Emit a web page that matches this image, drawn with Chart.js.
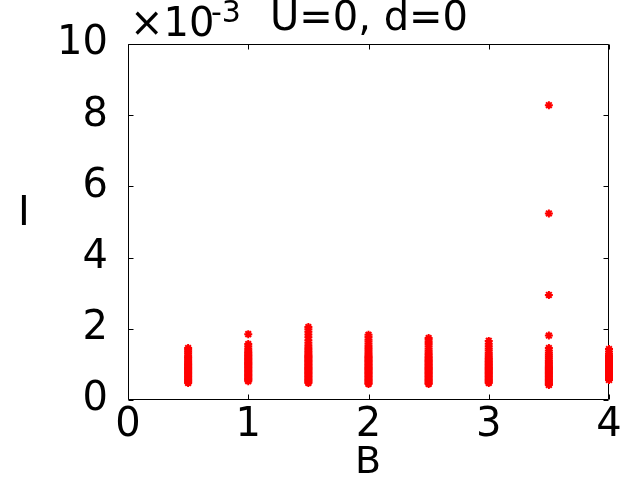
<!DOCTYPE html>
<html>
<head>
<meta charset="utf-8">
<script src="https://cdn.jsdelivr.net/npm/chart.js@4"></script>
<style>
    html, body { margin: 0; padding: 0; background: #fff; }
    #wrap { width: 640px; height: 480px; }
</style>
</head>
<body>
<div id="wrap"><canvas id="grafico"></canvas></div>
<script>
// valori di B (asse x) e corrente I in unità di 1e-3
const valoriB = [0.5, 1, 1.5, 2, 2.5, 3, 3.5, 4]
const tickX = [0, 1, 2, 3, 4]
const tickY = [0, 2, 4, 6, 8, 10]

const correnteB05 = [0.48, 0.51, 0.54, 0.57, 0.60, 0.63, 0.66, 0.69, 0.72, 0.75, 0.78, 0.81, 0.84, 0.87, 0.90, 0.93, 0.96, 0.99, 1.02, 1.05, 1.09, 1.13, 1.17, 1.21, 1.26, 1.31, 1.36, 1.41, 1.46]
const correnteB10 = [0.53, 0.56, 0.59, 0.62, 0.65, 0.68, 0.71, 0.74, 0.77, 0.80, 0.83, 0.86, 0.89, 0.92, 0.95, 0.98, 1.01, 1.04, 1.07, 1.10, 1.13, 1.16, 1.19, 1.22, 1.25, 1.28, 1.31, 1.35, 1.40, 1.45, 1.51, 1.57, 1.85]
const correnteB15 = [0.48, 0.51, 0.54, 0.57, 0.60, 0.63, 0.66, 0.69, 0.72, 0.75, 0.78, 0.81, 0.84, 0.87, 0.90, 0.93, 0.96, 0.99, 1.02, 1.05, 1.08, 1.11, 1.14, 1.17, 1.20, 1.23, 1.26, 1.30, 1.34, 1.38, 1.43, 1.48, 1.54, 1.61, 1.68, 1.76, 1.84, 1.92, 1.99, 2.05]
const correnteB20 = [0.45, 0.48, 0.51, 0.54, 0.57, 0.60, 0.63, 0.66, 0.69, 0.72, 0.75, 0.78, 0.81, 0.84, 0.87, 0.90, 0.93, 0.96, 0.99, 1.02, 1.05, 1.08, 1.11, 1.14, 1.17, 1.20, 1.23, 1.27, 1.31, 1.36, 1.41, 1.46, 1.52, 1.58, 1.64, 1.70, 1.77, 1.83]
const correnteB25 = [0.45, 0.48, 0.51, 0.54, 0.57, 0.60, 0.63, 0.66, 0.69, 0.72, 0.75, 0.78, 0.81, 0.84, 0.87, 0.90, 0.93, 0.96, 0.99, 1.02, 1.05, 1.08, 1.11, 1.14, 1.17, 1.21, 1.25, 1.29, 1.34, 1.39, 1.45, 1.51, 1.57, 1.63, 1.69, 1.74]
const correnteB30 = [0.48, 0.51, 0.54, 0.57, 0.60, 0.63, 0.66, 0.69, 0.72, 0.75, 0.78, 0.81, 0.84, 0.87, 0.90, 0.93, 0.96, 0.99, 1.02, 1.05, 1.08, 1.11, 1.15, 1.19, 1.23, 1.28, 1.33, 1.39, 1.45, 1.51, 1.58, 1.66]
const correnteB35 = [0.42, 0.45, 0.48, 0.51, 0.54, 0.57, 0.60, 0.63, 0.66, 0.69, 0.72, 0.75, 0.78, 0.81, 0.84, 0.87, 0.90, 0.93, 0.96, 1.00, 1.04, 1.08, 1.12, 1.17, 1.22, 1.27, 1.33, 1.39, 1.46, 1.81, 2.95, 5.24, 8.28]
const correnteB40 = [0.56, 0.59, 0.62, 0.65, 0.68, 0.71, 0.74, 0.77, 0.80, 0.83, 0.86, 0.89, 0.92, 0.95, 0.98, 1.01, 1.04, 1.07, 1.10, 1.13, 1.17, 1.21, 1.25, 1.30, 1.36, 1.43]

const colonne = [correnteB05, correnteB10, correnteB15, correnteB20, correnteB25, correnteB30, correnteB35, correnteB40]

var punti = []
colonne.forEach((col, i) => {
    col.forEach(v => punti.push({ x: valoriB[i], y: v }))
})

const font = 'DejaVu Sans'

// cornice e tacche verso l'interno come in MATLAB (sotto i punti), poi le scritte
const cornice = {
    id: 'cornice',
    beforeDatasetsDraw(chart) {
        const ctx = chart.ctx
        const a = chart.chartArea
        const sx = chart.scales.x
        const sy = chart.scales.y
        const L = Math.round(a.left) + 0.5
        const R = Math.round(a.right) - 0.5
        const T = Math.round(a.top) + 0.5
        const B = Math.round(a.bottom) - 0.5
        ctx.save()
        ctx.strokeStyle = '#000'
        ctx.lineWidth = 1
        ctx.beginPath()
        ctx.rect(L, T, R - L, B - T)
        for (let v of tickX) {
            let px = Math.round(sx.getPixelForValue(v)) + 0.5
            ctx.moveTo(px, B); ctx.lineTo(px, B - 5)
            ctx.moveTo(px, T); ctx.lineTo(px, T + 5)
        }
        for (let v of tickY) {
            let py = Math.round(sy.getPixelForValue(v)) + 0.5
            ctx.moveTo(L, py); ctx.lineTo(L + 5, py)
            ctx.moveTo(R, py); ctx.lineTo(R - 5, py)
        }
        ctx.stroke()
        ctx.restore()
    },
    afterDraw(chart) {
        const ctx = chart.ctx
        ctx.save()
        ctx.fillStyle = '#000'
        ctx.textBaseline = 'alphabetic'
        ctx.textAlign = 'center'
        ctx.font = `40px "${font}"`
        ctx.fillText('U=0, d=0', 369, 30)
        ctx.fillText('I', 24, 225)
        ctx.font = `38px "${font}"`
        ctx.fillText('B', 368, 473)
        ctx.textAlign = 'left'
        ctx.font = `40px "${font}"`
        ctx.fillText('\u00d710', 130, 36)
        ctx.font = `30px "${font}"`
        ctx.fillText('-3', 211, 22)
        ctx.restore()
    }
}

new Chart(
    document.getElementById('grafico'),
    {
        type: 'scatter',
        data: {
            datasets: [
                {
                    label: 'I',
                    data: punti,
                    pointStyle: 'star',
                    radius: 4,
                    borderWidth: 2,
                    borderColor: 'rgb(255, 0, 0)',
                    backgroundColor: 'rgb(255, 0, 0)',
                    clip: 8,
                },
            ]
        },
        options: {
            responsive: true,
            maintainAspectRatio: false,
            animation: false,
            events: [],
            layout: {
                padding: { left: 0, right: 31, top: 44, bottom: 0 }
            },
            plugins: {
                legend: { display: false },
                tooltip: { enabled: false },
            },
            scales: {
                x: {
                    type: 'linear',
                    min: 0,
                    max: 4,
                    afterFit: s => { s.height = 80 },
                    afterBuildTicks: s => { s.ticks = tickX.map(v => ({ value: v })) },
                    grid: { display: false, drawTicks: false },
                    border: { display: false },
                    ticks: {
                        color: '#000',
                        padding: 2,
                        maxRotation: 0,
                        font: { family: font, size: 40 },
                    }
                },
                y: {
                    type: 'linear',
                    min: 0,
                    max: 10,
                    afterFit: s => { s.width = 128 },
                    afterBuildTicks: s => { s.ticks = tickY.map(v => ({ value: v })) },
                    grid: { display: false, drawTicks: false },
                    border: { display: false },
                    ticks: {
                        color: '#000',
                        padding: 20,
                        font: { family: font, size: 40 },
                    }
                }
            }
        },
        plugins: [cornice]
    }
)
</script>
</body>
</html>
